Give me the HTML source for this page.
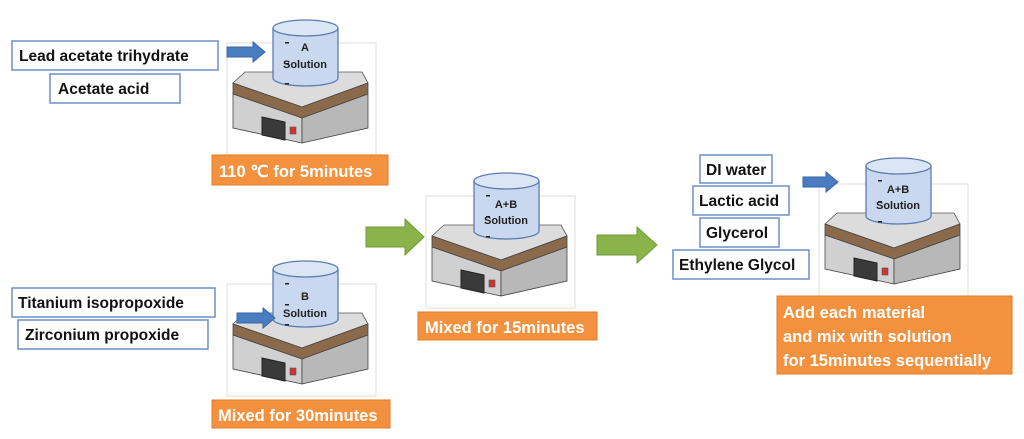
<!DOCTYPE html>
<html><head><meta charset="utf-8"><style>
html,body{margin:0;padding:0;background:#fff;}
svg{display:block;font-family:"Liberation Sans",sans-serif;}
.bx{fill:#fff;stroke:#6b8fc8;stroke-width:1.5;}
.bt{font-size:15.5px;font-weight:bold;fill:#111;}
.ob{fill:#f4913f;stroke:#e07a28;stroke-width:1;}
.ot{font-size:16.5px;font-weight:bold;fill:#fff;}
.st{font-size:11px;font-weight:bold;fill:#222;text-anchor:middle;}
</style></head><body>
<svg width="1024" height="439" viewBox="0 0 1024 439">
<defs>
<g id="hp">
 <rect x="-6" y="-29" width="149" height="112" fill="none" stroke="#ddd" stroke-width="1"/>
 <polygon points="0,11 12,0 129,0 135,11 69,35" fill="#dcdcdc" stroke="#555" stroke-width="0.8"/>
 <polygon points="0,11 69,35 135,11 135,22 69,46 0,22" fill="#8b6a4c" stroke="#444" stroke-width="0.8"/>
 <polygon points="0,22 69,46 69,71 0,56" fill="#d0d0d0" stroke="#444" stroke-width="0.8"/>
 <polygon points="69,46 135,22 135,56 69,71" fill="#b8b8b8" stroke="#444" stroke-width="0.8"/>
 <polygon points="29,45 52,50 52,68 29,63" fill="#3a3a3a" stroke="#222"/>
 <rect x="57" y="55" width="6" height="7" fill="#c33" stroke="#555" stroke-width="0.6"/>
</g>
<g id="bk">
 <path d="M0,8 L0,58 A32.5,8 0 0 0 65,58 L65,8" fill="#c9d8ee" stroke="#5b7bb3" stroke-width="1.3"/>
 <ellipse cx="32.5" cy="8" rx="32.5" ry="8" fill="#dbe6f5" stroke="#5b7bb3" stroke-width="1.3"/>
 <rect x="12" y="22" width="4" height="1.5" fill="#222"/>
 <rect x="12" y="43" width="4" height="1.5" fill="#222"/>
 <rect x="12" y="63" width="4" height="1.5" fill="#222"/>
</g>
</defs>

<use href="#hp" x="233" y="72"/>
<use href="#bk" x="273" y="20"/>
<text class="st" x="305" y="51">A</text><text class="st" x="305" y="68">Solution</text>
<use href="#hp" x="432" y="225"/>
<use href="#bk" x="474" y="173"/>
<text class="st" x="506" y="208">A+B</text><text class="st" x="506" y="224">Solution</text>
<use href="#hp" x="233" y="313"/>
<use href="#bk" x="273" y="261"/>
<text class="st" x="305" y="300">B</text><text class="st" x="305" y="317">Solution</text>
<use href="#hp" x="825" y="213"/>
<use href="#bk" x="866" y="158"/>
<text class="st" x="898" y="193">A+B</text><text class="st" x="898" y="209">Solution</text>

<rect class="bx" x="12" y="41" width="206" height="29"/><text class="bt" x="19" y="61">Lead acetate trihydrate</text>
<rect class="bx" x="50" y="74" width="130" height="29"/><text class="bt" x="58" y="94">Acetate acid</text>
<rect class="bx" x="12" y="288" width="203" height="29"/><text class="bt" x="18" y="308">Titanium isopropoxide</text>
<rect class="bx" x="18" y="320" width="190" height="29"/><text class="bt" x="25" y="340">Zirconium propoxide</text>
<rect class="bx" x="700" y="155" width="72" height="28"/><text class="bt" x="706" y="175">DI water</text>
<rect class="bx" x="693" y="186" width="96" height="29"/><text class="bt" x="699" y="206">Lactic acid</text>
<rect class="bx" x="700" y="218" width="79" height="29"/><text class="bt" x="706" y="238">Glycerol</text>
<rect class="bx" x="673" y="250" width="136" height="29"/><text class="bt" x="679" y="270">Ethylene Glycol</text>

<rect class="ob" x="212" y="155" width="176" height="30"/><text class="ot" x="219" y="177">110 ℃ for 5minutes</text>
<rect class="ob" x="418" y="312" width="179" height="28"/><text class="ot" x="425" y="333">Mixed for 15minutes</text>
<rect class="ob" x="212" y="400" width="178" height="28"/><text class="ot" x="218" y="421">Mixed for 30minutes</text>
<rect class="ob" x="777" y="296" width="235" height="78"/>
<text class="ot" x="783" y="318">Add each material</text>
<text class="ot" x="783" y="342">and mix with solution</text>
<text class="ot" x="783" y="366">for 15minutes sequentially</text>

<polygon points="227,47 253,47 253,42 265,52 253,62 253,57 227,57" fill="#4a7cc0" stroke="#3a66a8"/>
<polygon points="237,313 263,313 263,308 275,318 263,328 263,323 237,323" fill="#4a7cc0" stroke="#3a66a8"/>
<polygon points="803,177 826,177 826,172 838,182 826,192 826,187 803,187" fill="#4a7cc0" stroke="#3a66a8"/>
<polygon points="366,227 405,227 405,219 424,237 405,255 405,247 366,247" fill="#8ab34a" stroke="#6e9a36"/>
<polygon points="597,235 637,235 637,227 657,245 637,263 637,255 597,255" fill="#8ab34a" stroke="#6e9a36"/>
</svg>
</body></html>
